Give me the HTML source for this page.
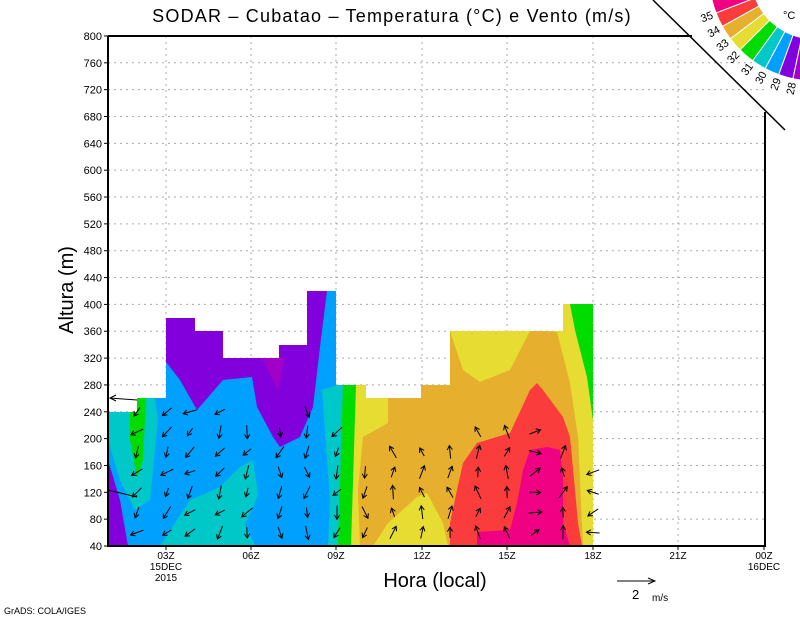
<!DOCTYPE html>
<html><head><meta charset="utf-8"><style>
html,body{margin:0;padding:0;background:#fff}
svg{display:block}
text{font-family:"Liberation Sans",sans-serif;fill:#000}
</style></head><body>
<svg id="s" width="800" height="618" viewBox="0 0 800 618" xmlns="http://www.w3.org/2000/svg">
<defs>
<clipPath id="dc"><polygon points="108,546 108,412 137,412 137,398 166,398 166,318 195,318 195,331 223,331 223,358 279,358 279,345 307,345 307,291 336,291 336,385 366,385 366,398 421,398 421,385 450,385 450,331 563,331 563,304 593,304 593,546"/></clipPath>
</defs>
<g id="grid" stroke="#aaa" stroke-width="1" stroke-dasharray="2,4"></g>
<g clip-path="url(#dc)">
<rect x="108" y="280" width="230" height="270" fill="#00a0ff"/>
<rect x="336" y="280" width="260" height="270" fill="#e6af2d"/>
<polygon fill="#8200dc" points="160,290 336,290 327,291 320,347 313,407 300,437 280,447 273,437 257,407 252,377 223,380 197,410 180,380 166,362 160,362"/>
<polygon fill="#a000c8" points="262,358 285,358 278,390"/>
<polygon fill="#8200dc" points="108,460 120,500 128,546 108,546"/>
<polygon fill="#00c8c8" points="108,412 137,412 137,398 155,398 158,420 150,500 135,510 120,480 108,440"/>
<polygon fill="#00dc00" points="137,398 146,398 143,460 137,478 130,440 130,412"/>
<polygon fill="#00c8c8" points="160,546 190,500 220,487 240,467 253,460 258,495 245,525 255,546"/>
<polygon fill="#00c8c8" points="322,390 337,385 345,385 345,546 328,546 330,500"/>
<polygon fill="#00dc00" points="343,385 357,385 352,546 338,546"/>
<polygon fill="#e6dc32" points="356,385 366,385 366,398 388,398 388,423 363,437 358,490 360,546 351,546"/>
<polygon fill="#e6dc32" points="373,546 388,523 417,497 427,493 443,523 448,546"/>
<polygon fill="#e6dc32" points="450,331 530,331 510,370 480,382 463,370"/>
<polygon fill="#e6dc32" points="545,331 563,331 563,304 570,304 575,330 587,377 593,420 593,546 583,546 578,437 570,383 557,332"/>
<polygon fill="#00dc00" points="570,304 593,304 593,420 587,377 575,330"/>
<polygon fill="#fa3c3c" points="450,546 450,523 457,490 463,463 477,443 510,433 530,390 537,383 543,390 563,417 570,437 575,490 578,523 582,546"/>
<polygon fill="#f00082" points="477,546 477,532 510,530 517,503 523,470 530,450 547,447 560,450 563,477 563,523 570,546"/>
</g>
<g id="arr" stroke="#000" stroke-width="1" fill="none"></g>
<g stroke="#000" stroke-width="2" fill="none">
<polyline points="108,36 692,36"/>
<line x1="765" y1="112" x2="765" y2="546"/>
<line x1="108" y1="36" x2="108" y2="547"/>
<line x1="107" y1="546" x2="766" y2="546"/>
</g>
<line x1="653" y1="0" x2="785" y2="130" stroke="#000" stroke-width="1.5"/>
<g id="ax"></g>
<g id="leg"></g>
<text x="392" y="22" font-size="18" text-anchor="middle" letter-spacing="1.2">SODAR – Cubatao – Temperatura (°C) e Vento (m/s)</text>
<text transform="translate(73,290) rotate(-90)" font-size="20" text-anchor="middle">Altura (m)</text>
<text x="435" y="587" font-size="20" text-anchor="middle">Hora (local)</text>
<text x="4" y="614" font-size="9">GrADS: COLA/IGES</text>
<line x1="617" y1="581" x2="655" y2="581" stroke="#000"/>
<polyline points="648,578 655,581 648,584" stroke="#000" fill="none"/>
<text x="632" y="599" font-size="13">2</text>
<text x="652" y="601" font-size="10">m/s</text>
<text x="783" y="19" font-size="11">°C</text>
</svg>
<script>
var NS="http://www.w3.org/2000/svg";
function el(p,t,a,txt){var e=document.createElementNS(NS,t);for(var k in a)e.setAttribute(k,a[k]);if(txt!=null)e.textContent=txt;document.getElementById(p).appendChild(e);return e;}
function Y(h){return 546-(h-40)*0.6711;}
for(var h=80;h<=760;h+=40){el("grid","line",{x1:108,x2:765,y1:Y(h),y2:Y(h)});}
var xs=[166,251,336,422,507,593,678];
xs.forEach(function(x){el("grid","line",{x1:x,x2:x,y1:36,y2:546});});
for(var h=40;h<=800;h+=40){el("ax","text",{x:102,y:Y(h)+4,"font-size":11,"text-anchor":"end"},String(h));el("ax","line",{x1:104,x2:108,y1:Y(h),y2:Y(h),stroke:"#000"});}
var lab=["03Z","06Z","09Z","12Z","15Z","18Z","21Z","00Z"];
[166,251,336,422,507,593,678,764].forEach(function(x,i){el("ax","text",{x:x,y:559,"font-size":10,"text-anchor":"middle"},lab[i]);el("ax","line",{x1:x,x2:x,y1:546,y2:550,stroke:"#000"});});
el("ax","text",{x:166,y:570,"font-size":10,"text-anchor":"middle"},"15DEC");
el("ax","text",{x:166,y:581,"font-size":10,"text-anchor":"middle"},"2015");
el("ax","text",{x:764,y:570,"font-size":10,"text-anchor":"middle"},"16DEC");
function arrow(x,y,ang,len){var dx=Math.cos(ang)*len,dy=Math.sin(ang)*len;var x1=x-dx/2,y1=y-dy/2,x2=x+dx/2,y2=y+dy/2;
el("arr","line",{x1:x1,y1:y1,x2:x2,y2:y2});
var a1=ang+2.6,a2=ang-2.6;el("arr","polyline",{points:(x2+Math.cos(a1)*5)+","+(y2+Math.sin(a1)*5)+" "+x2+","+y2+" "+(x2+Math.cos(a2)*5)+","+(y2+Math.sin(a2)*5)});}
var cols=[[137,240,2.3],[167,260,2.2],[190,260,2.4],[220,240,2.2],[247,230,2.0],[280,220,1.7],[307,240,1.6],[337,230,2.0],[365,170,1.6],[393,190,-1.6],[422,190,-1.7],[450,190,-1.6],[478,220,-1.6],[507,220,-1.5],[535,220,-0.2],[563,200,-1.4],[593,170,3.0]];
cols.forEach(function(c,ci){for(var h=60;h<=c[1];h+=30){var j=Math.sin(ci*7+h*0.13)*0.5;arrow(c[0],Y(h),c[2]+j,9+Math.abs(Math.cos(h+ci))*5);}});
el("arr","line",{x1:110,y1:398,x2:137,y2:400});
el("arr","polyline",{points:"116,395 110,398 116,401"});
el("arr","line",{x1:108,y1:490,x2:137,y2:497});
var cx=815,cy=-25,ri=64,ro=106;
var cols2=["#f00082","#fa3c3c","#e6af2d","#e6dc32","#00dc00","#00c8c8","#00a0ff","#8200dc","#a000c8"];
var bounds=[167,159,151,143,135,126,118,110,102,94];
function P(r,a){a=a*Math.PI/180;return [cx+r*Math.cos(a),cy+r*Math.sin(a)];}
for(var i=0;i<9;i++){var a0=bounds[i],a1=bounds[i+1];var p1=P(ro,a0),p2=P(ro,a1),p3=P(ri,a1),p4=P(ri,a0);
el("leg","path",{d:"M"+p1+" A"+ro+","+ro+" 0 0 0 "+p2+" L"+p3+" A"+ri+","+ri+" 0 0 1 "+p4+" Z",fill:cols2[i],stroke:"#fff","stroke-width":1});}
var lt=["35","34","33","32","31","30","29","28"];
for(var i=0;i<8;i++){var a=bounds[i+1];var p=P(116,a);el("leg","text",{x:p[0],y:p[1]+4,"font-size":11,"text-anchor":"middle",transform:"rotate("+(a-180)+" "+p[0]+" "+p[1]+")"},lt[i]);}
</script>
</body></html>
